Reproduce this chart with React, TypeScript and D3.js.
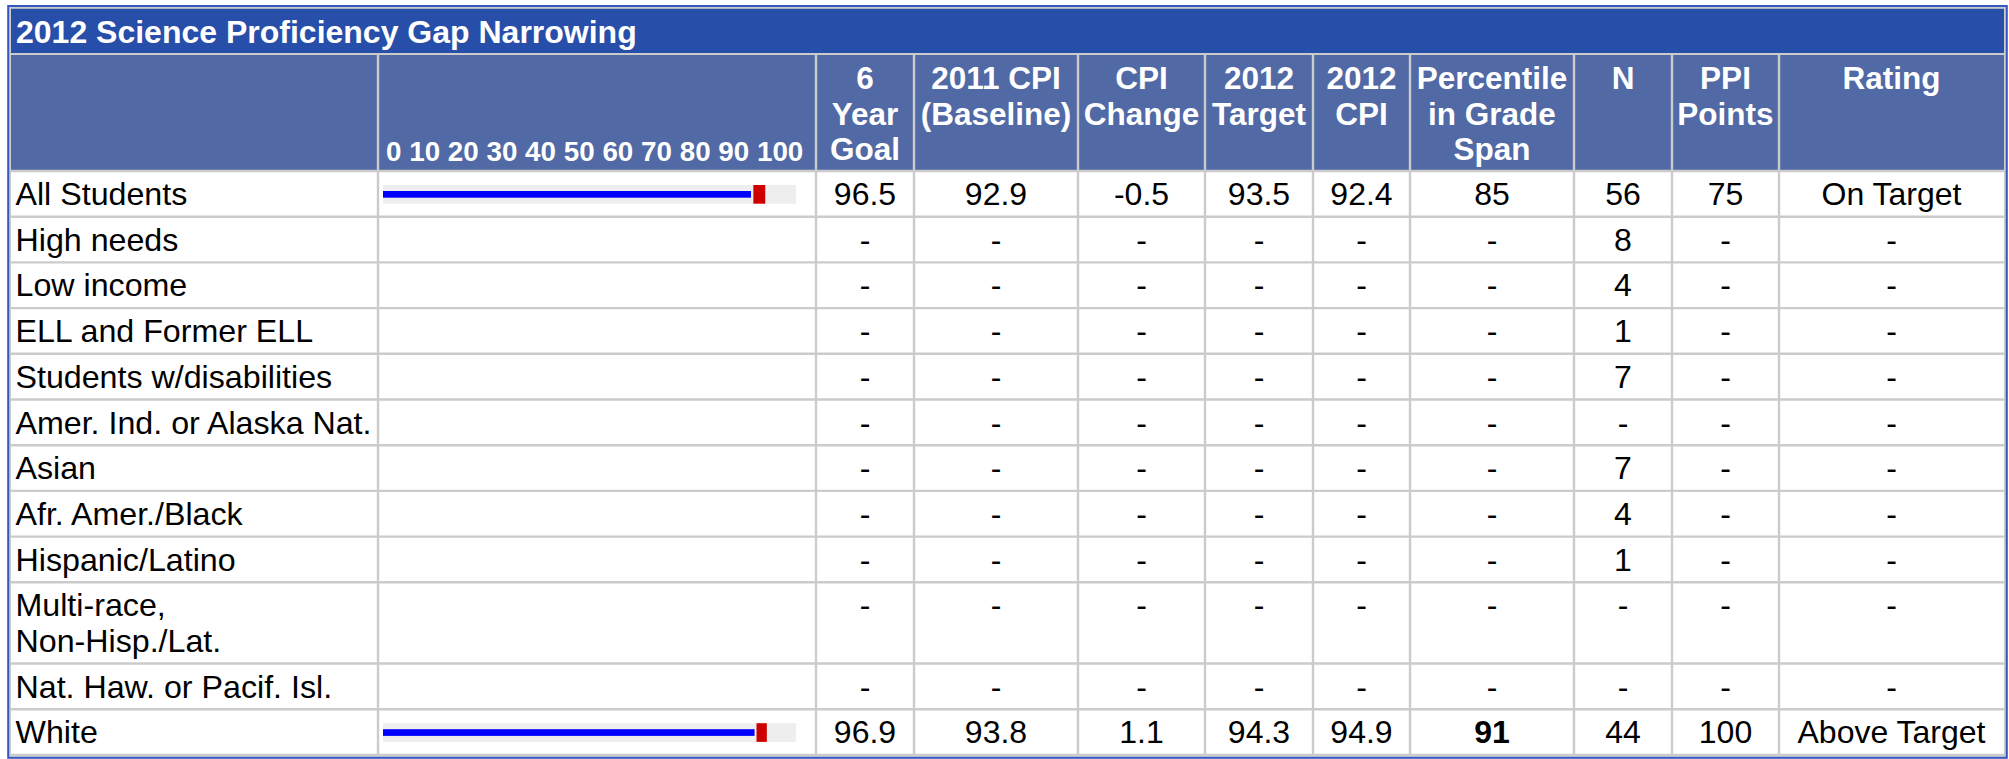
import { useEffect } from "react";
import * as d3 from "d3";

// table data
const title = "2012 Science Proficiency Gap Narrowing";
const groups = [
  "All Students",
  "High needs",
  "Low income",
  "ELL and Former ELL",
  "Students w/disabilities",
  "Amer. Ind. or Alaska Nat.",
  "Asian",
  "Afr. Amer./Black",
  "Hispanic/Latino",
  "Multi-race,\nNon-Hisp./Lat.",
  "Nat. Haw. or Pacif. Isl.",
  "White",
];
const goal6 = [96.5, null, null, null, null, null, null, null, null, null, null, 96.9];
const baseline2011 = [92.9, null, null, null, null, null, null, null, null, null, null, 93.8];
const cpiChange = [-0.5, null, null, null, null, null, null, null, null, null, null, 1.1];
const target2012 = [93.5, null, null, null, null, null, null, null, null, null, null, 94.3];
const cpi2012 = [92.4, null, null, null, null, null, null, null, null, null, null, 94.9];
const percentile = [85, null, null, null, null, null, null, null, null, null, null, 91];
const percentileBold = [false, false, false, false, false, false, false, false, false, false, false, true];
const nValues = [56, 8, 4, 1, 7, null, 7, 4, 1, null, null, 44];
const ppiPoints = [75, null, null, null, null, null, null, null, null, null, null, 100];
const ratings = ["On Target", null, null, null, null, null, null, null, null, null, null, "Above Target"];
const barTicks = [0, 10, 20, 30, 40, 50, 60, 70, 80, 90, 100];
const headers = [
  "",
  "",
  "6\nYear\nGoal",
  "2011 CPI\n(Baseline)",
  "CPI\nChange",
  "2012\nTarget",
  "2012\nCPI",
  "Percentile\nin Grade\nSpan",
  "N",
  "PPI\nPoints",
  "Rating",
];

// layout
const W = 2009;
const H = 759;
const colEdges = [11, 378, 816, 914, 1078, 1205, 1313, 1410, 1574, 1672, 1779, 2004];
const headTop = 54;
const headBottom = 171;
const rowPitch = 45.7;
const lineH = 35.5;
const FONT = "'Liberation Sans', Arial, Helvetica, sans-serif";
const GRID = "#cbcbcb";

const fmt1 = (v: number | null) => (v == null ? "-" : v.toFixed(1));
const fmt0 = (v: number | string | null) => (v == null ? "-" : String(v));

export default function App() {
  useEffect(() => {
    document.body.style.margin = "0";
  }, []);

  const lines = groups.map((g) => g.split("\n").length);
  const heights = lines.map((n) => rowPitch + (n - 1) * lineH);
  const rowTops = [headBottom, ...Array.from(d3.cumsum(heights), (c) => headBottom + c)];

  const x = d3.scaleLinear().domain([0, 100]).range([383, 779.1]);
  const bgMax = 104.3;

  const cols: ((i: number) => string)[] = [
    (i) => fmt1(goal6[i]),
    (i) => fmt1(baseline2011[i]),
    (i) => fmt1(cpiChange[i]),
    (i) => fmt1(target2012[i]),
    (i) => fmt1(cpi2012[i]),
    (i) => fmt0(percentile[i]),
    (i) => fmt0(nValues[i]),
    (i) => fmt0(ppiPoints[i]),
    (i) => fmt0(ratings[i]),
  ];

  const center = (c: number) => (colEdges[c] + colEdges[c + 1]) / 2;

  return (
    <svg
      width={W}
      height={H}
      style={{ display: "block", position: "absolute", left: 0, top: 0 }}
      fontFamily={FONT}
    >
      <rect x={0} y={0} width={W} height={H} fill="#ffffff" />
      {/* title band */}
      <rect x={11} y={8} width={1993} height={headTop - 8} fill="#274ea8" />
      <text x={16} y={42.7} fill="#ffffff" fontSize={32} fontWeight="bold">
        {title}
      </text>
      {/* header cells */}
      <rect x={11} y={headTop} width={1993} height={headBottom - headTop} fill="#5169a5" />
      {headers.map((h, c) =>
        h.split("\n").map((t, k) => (
          <text
            key={`h${c}-${k}`}
            x={center(c)}
            y={headTop + 35 + k * lineH}
            textAnchor="middle"
            fill="#ffffff"
            fontSize={31.5}
            fontWeight="bold"
          >
            {t}
          </text>
        ))
      )}
      <text x={386} y={headBottom - 10.5} fill="#ffffff" fontSize={27.8} fontWeight="bold">
        {barTicks.join(" ")}
      </text>

      {/* rows */}
      {groups.map((g, i) => {
        const top = rowTops[i];
        return (
          <g key={g}>
            {g.split("\n").map((t, k) => (
              <text key={k} x={15.5} y={top + 34} dy={k * lineH} fontSize={32.2} fill="#000000">
                {t}
              </text>
            ))}
            {baseline2011[i] != null && (
              <g>
                <rect x={x(0)} y={top + 14} width={x(bgMax) - x(0)} height={18.7} fill="#eeeeee" />
                <rect
                  x={x(0)}
                  y={top + 20}
                  width={x(baseline2011[i] as number) - x(0)}
                  height={6.7}
                  fill="#0000ff"
                />
                <rect
                  x={x(target2012[i] as number)}
                  y={top + 14}
                  width={x(goal6[i] as number) - x(target2012[i] as number)}
                  height={18.7}
                  fill="#cc0000"
                />
              </g>
            )}
            {cols.map((f, c) => (
              <text
                key={c}
                x={center(c + 2)}
                y={top + 34}
                textAnchor="middle"
                fontSize={32}
                fill="#000000"
                fontWeight={c === 5 && percentileBold[i] ? "bold" : "normal"}
              >
                {f(i)}
              </text>
            ))}
          </g>
        );
      })}

      {/* grid lines */}
      <line x1={11} x2={2004} y1={headTop} y2={headTop} stroke={GRID} strokeWidth={2.2} />
      {rowTops.map((t, k) => (
        <line key={`r${k}`} x1={11} x2={2004} y1={t} y2={t} stroke={GRID} strokeWidth={2.4} />
      ))}
      {colEdges.slice(1, -1).map((e, k) => (
        <line key={`c${k}`} x1={e} x2={e} y1={headTop} y2={rowTops[rowTops.length - 1]} stroke={GRID} strokeWidth={2.4} />
      ))}
      <rect x={10} y={7.8} width={1995} height={748} fill="none" stroke={GRID} strokeWidth={2} />
      <rect x={8.2} y={6} width={1998.6} height={751.8} fill="none" stroke="#3558c0" strokeWidth={2} />
    </svg>
  );
}
